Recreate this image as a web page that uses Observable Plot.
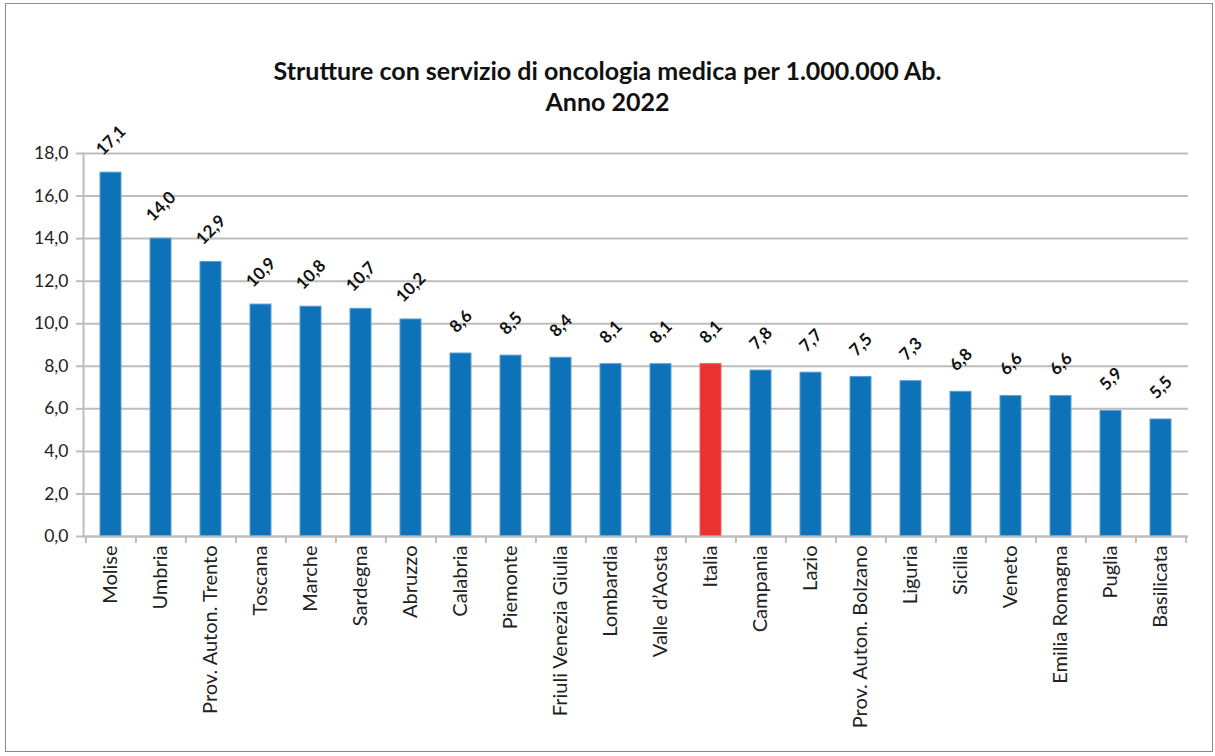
<!DOCTYPE html>
<html>
<head>
<meta charset="utf-8">
<script src="https://cdn.jsdelivr.net/npm/d3@7"></script>
<script src="https://cdn.jsdelivr.net/npm/@observablehq/plot@0.6"></script>
<style>
  html, body { margin: 0; padding: 0; background: #fff; }
  #frame { position: absolute; left: 5px; top: 3px; width: 1208px; height: 749px; border: 1.5px solid #8a8a8a; box-sizing: border-box; z-index: 5; pointer-events: none; }
  #title { position: absolute; left: 0; top: 55px; width: 1215px; text-align: center; font-family: Lato, "Open Sans", sans-serif; font-weight: bold; font-size: 25px; line-height: 31px; color: #111; z-index: 2; }
  #chart { position: absolute; left: 0; top: 110px; }
</style>
</head>
<body>
<div id="frame"></div>
<div id="title">Strutture con servizio di oncologia medica per 1.000.000 Ab.<br>Anno 2022</div>
<div id="chart"></div>
<script>
const regions = ["Molise","Umbria","Prov. Auton. Trento","Toscana","Marche","Sardegna","Abruzzo","Calabria","Piemonte","Friuli Venezia Giulia","Lombardia","Valle d\u2019Aosta","Italia","Campania","Lazio","Prov. Auton. Bolzano","Liguria","Sicilia","Veneto","Emilia Romagna","Puglia","Basilicata"];
const values = [17.1,14.0,12.9,10.9,10.8,10.7,10.2,8.6,8.5,8.4,8.1,8.1,8.1,7.8,7.7,7.5,7.3,6.8,6.6,6.6,5.9,5.5];
const highlight = "Italia";
const yTicks = [0,2,4,6,8,10,12,14,16,18];

const data = regions.map((r, i) => ({region: r, value: values[i]}));
const fmt = v => v.toFixed(1).replace(".", ",");

const W = 1215, H = 620, mL = 83, mR = 27, mT = 43, mB = 194;
const step = (W - mL - mR) / regions.length;
const pad = 0.58;

const plot = Plot.plot({
  width: W, height: H,
  marginLeft: mL, marginRight: mR, marginTop: mT, marginBottom: mB,
  style: {fontFamily: "Lato, 'Open Sans', sans-serif", fontSize: "17px", color: "#222", background: "transparent"},
  x: {domain: regions, paddingInner: pad, paddingOuter: pad / 2, align: 0.5, label: null, axis: null},
  y: {domain: [0, 18], label: null, axis: null},
  marks: [
    Plot.gridY(yTicks, {stroke: "#bdbdbd", strokeOpacity: 1, strokeWidth: 2}),
    Plot.frame({anchor: "left", stroke: "#bdbdbd", strokeWidth: 2}),
    Plot.axisY(yTicks, {tickFormat: fmt, tickSize: 7, tickPadding: 8, stroke: "#bdbdbd", strokeWidth: 2, fontSize: 17.5, fill: "#222"}),
    Plot.barY(data, {x: "region", y: "value", fill: d => d.region === highlight ? "#ea3232" : "#0e72b9", stroke: d => d.region === highlight ? "#f06060" : "#5a9fd4", strokeWidth: 1}),
    Plot.ruleY([0], {stroke: "#bdbdbd", strokeWidth: 2}),
    Plot.ruleX(regions, {x: d => d, dx: -step / 2, y1: 0, y2: 0, insetBottom: -7, stroke: "#bdbdbd", strokeWidth: 2}),
    Plot.ruleX([regions[regions.length - 1]], {x: d => d, dx: step / 2, y1: 0, y2: 0, insetBottom: -7, stroke: "#bdbdbd", strokeWidth: 2}),
    Plot.axisX({tickRotate: -90, tickSize: 0, tickPadding: 9, fontSize: 20, fill: "#222", label: null}),
    Plot.text(data, {x: "region", y: "value", text: d => fmt(d.value), rotate: -45, dy: -32, fontWeight: "bold", fontSize: 17, fill: "#111", textAnchor: "middle", lineAnchor: "middle"})
  ]
});

document.getElementById("chart").appendChild(plot);
</script>
</body>
</html>
